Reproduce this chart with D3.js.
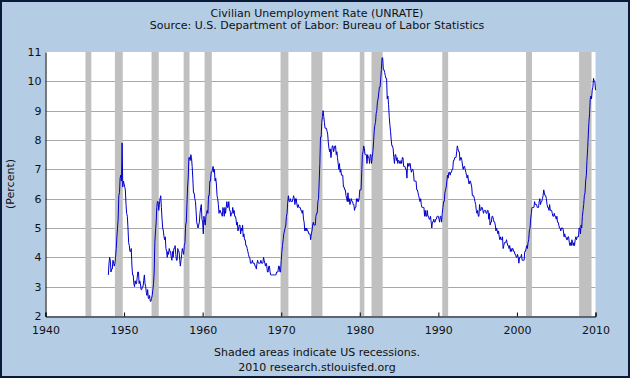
<!DOCTYPE html>
<html>
<head>
<meta charset="utf-8">
<script src="https://cdn.jsdelivr.net/npm/d3@7"></script>
<style>
  body { margin: 0; background: #fff; }
  svg { display: block; font-family: "DejaVu Sans", Verdana, sans-serif; }
</style>
</head>
<body>
<div id="chart"></div>
<script>
// monthly UNRATE, Jan 1948 .. Jan 2010
const startYear = 1948
const unrate = [
  3.4,3.8,4.0,3.9,3.5,3.6,3.6,3.9,3.8,3.7,3.8,4.0,
  4.3,4.7,5.0,5.3,6.1,6.2,6.7,6.8,6.6,7.9,6.4,6.6,
  6.5,6.4,6.3,5.8,5.5,5.4,5.0,4.5,4.4,4.2,4.2,4.3,
  3.7,3.4,3.4,3.1,3.0,3.2,3.1,3.1,3.3,3.5,3.5,3.1,
  3.2,3.1,2.9,2.9,3.0,3.0,3.2,3.4,3.1,3.0,2.8,2.7,
  2.9,2.6,2.6,2.7,2.5,2.5,2.6,2.7,2.9,3.1,3.5,4.5,
  4.9,5.2,5.7,5.9,5.9,5.6,5.8,6.0,6.1,5.7,5.3,5.0,
  4.9,4.7,4.6,4.7,4.3,4.2,4.0,4.2,4.1,4.3,4.2,4.2,
  4.0,3.9,4.2,4.0,4.3,4.3,4.4,4.1,3.9,3.9,4.3,4.2,
  4.2,3.9,3.7,3.9,4.1,4.3,4.2,4.1,4.4,4.5,5.1,5.2,
  5.8,6.4,6.7,7.4,7.4,7.3,7.5,7.4,7.1,6.7,6.2,6.2,
  6.0,5.9,5.6,5.2,5.1,5.0,5.1,5.2,5.5,5.7,5.8,5.3,
  5.2,4.8,5.4,5.2,5.1,5.4,5.5,5.6,5.5,6.1,6.1,6.6,
  6.6,6.9,6.9,7.0,7.1,6.9,7.0,6.6,6.7,6.5,6.1,6.0,
  5.8,5.5,5.6,5.6,5.5,5.5,5.4,5.7,5.6,5.4,5.7,5.5,
  5.7,5.9,5.7,5.7,5.9,5.6,5.6,5.4,5.5,5.5,5.7,5.5,
  5.6,5.4,5.4,5.3,5.1,5.2,4.9,5.0,5.1,5.1,4.8,5.0,
  4.9,5.1,4.7,4.8,4.6,4.6,4.4,4.4,4.3,4.2,4.1,4.0,
  4.0,3.8,3.8,3.8,3.9,3.8,3.8,3.8,3.7,3.7,3.6,3.8,
  3.9,3.8,3.8,3.8,3.8,3.9,3.8,3.8,3.8,4.0,3.9,3.8,
  3.7,3.8,3.7,3.5,3.5,3.7,3.7,3.5,3.4,3.4,3.4,3.4,
  3.4,3.4,3.4,3.4,3.4,3.5,3.5,3.5,3.7,3.7,3.5,3.5,
  3.9,4.2,4.4,4.6,4.8,4.9,5.0,5.1,5.4,5.5,5.9,6.1,
  5.9,5.9,6.0,5.9,5.9,5.9,6.0,6.1,6.0,5.8,6.0,6.0,
  5.8,5.7,5.8,5.7,5.7,5.7,5.6,5.6,5.5,5.6,5.3,5.2,
  4.9,5.0,4.9,5.0,4.9,4.9,4.8,4.8,4.8,4.6,4.8,4.9,
  5.1,5.2,5.1,5.1,5.1,5.4,5.5,5.5,5.9,6.0,6.6,7.2,
  8.1,8.1,8.6,8.8,9.0,8.8,8.6,8.4,8.4,8.4,8.3,8.2,
  7.9,7.7,7.6,7.7,7.4,7.6,7.8,7.8,7.6,7.7,7.8,7.8,
  7.5,7.6,7.4,7.2,7.0,7.2,6.9,7.0,6.8,6.8,6.8,6.4,
  6.4,6.3,6.3,6.1,6.0,5.9,6.2,5.9,6.0,5.8,5.9,6.0,
  5.9,5.9,5.8,5.8,5.6,5.7,5.7,6.0,5.9,6.0,5.9,6.0,
  6.3,6.3,6.3,6.9,7.5,7.6,7.8,7.7,7.5,7.5,7.5,7.2,
  7.5,7.4,7.4,7.2,7.5,7.5,7.2,7.4,7.6,7.9,8.3,8.5,
  8.6,8.9,9.0,9.3,9.4,9.6,9.8,9.8,10.1,10.4,10.8,10.8,
  10.4,10.4,10.3,10.2,10.1,10.1,9.4,9.5,9.2,8.8,8.5,8.3,
  8.0,7.8,7.8,7.7,7.4,7.2,7.5,7.5,7.3,7.4,7.2,7.3,
  7.3,7.2,7.2,7.3,7.2,7.4,7.4,7.1,7.1,7.1,7.0,7.0,
  6.7,7.2,7.2,7.1,7.2,7.2,7.0,6.9,7.0,7.0,6.9,6.6,
  6.6,6.6,6.6,6.3,6.3,6.2,6.1,6.0,5.9,6.0,5.8,5.7,
  5.7,5.7,5.7,5.4,5.6,5.4,5.4,5.6,5.4,5.4,5.3,5.3,
  5.4,5.2,5.0,5.2,5.2,5.3,5.2,5.2,5.3,5.3,5.4,5.4,
  5.4,5.3,5.2,5.4,5.4,5.2,5.5,5.7,5.9,5.9,6.2,6.3,
  6.4,6.6,6.8,6.7,6.9,6.9,6.8,6.9,6.9,7.0,7.0,7.3,
  7.3,7.4,7.4,7.4,7.6,7.8,7.7,7.6,7.6,7.3,7.4,7.4,
  7.3,7.1,7.0,7.1,7.1,7.0,6.9,6.8,6.7,6.8,6.6,6.5,
  6.6,6.6,6.5,6.4,6.1,6.1,6.1,6.0,5.9,5.8,5.6,5.5,
  5.6,5.4,5.4,5.8,5.6,5.6,5.7,5.7,5.6,5.5,5.6,5.6,
  5.6,5.5,5.5,5.6,5.6,5.3,5.5,5.1,5.2,5.2,5.4,5.4,
  5.3,5.2,5.2,5.1,4.9,5.0,4.9,4.8,4.9,4.7,4.6,4.7,
  4.6,4.6,4.7,4.3,4.4,4.5,4.5,4.5,4.6,4.5,4.4,4.4,
  4.3,4.4,4.2,4.3,4.2,4.3,4.3,4.2,4.2,4.1,4.1,4.0,
  4.0,4.1,4.0,3.8,4.0,4.0,4.0,4.1,3.9,3.9,3.9,3.9,
  4.2,4.2,4.3,4.4,4.3,4.5,4.6,4.9,5.0,5.3,5.5,5.7,
  5.7,5.7,5.7,5.9,5.8,5.8,5.8,5.7,5.7,5.7,5.9,6.0,
  5.8,5.9,5.9,6.0,6.1,6.3,6.2,6.1,6.1,6.0,5.8,5.7,
  5.7,5.6,5.8,5.6,5.6,5.6,5.5,5.4,5.4,5.5,5.4,5.4,
  5.3,5.4,5.2,5.2,5.1,5.0,5.0,4.9,5.0,5.0,5.0,4.9,
  4.7,4.8,4.7,4.7,4.6,4.6,4.7,4.7,4.5,4.4,4.5,4.4,
  4.6,4.5,4.4,4.5,4.4,4.6,4.7,4.6,4.7,4.7,4.7,5.0,
  5.0,4.8,5.1,5.0,5.4,5.6,5.8,6.1,6.2,6.6,6.8,7.3,
  7.7,8.2,8.6,8.9,9.4,9.5,9.4,9.7,9.8,10.1,10.0,10.0,
  9.7
]

// NBER recessions, peak month .. trough month
const recStart = ["1945-02","1948-11","1953-07","1957-08","1960-04","1969-12","1973-11","1980-01","1981-07","1990-07","2001-03","2007-12"]
const recEnd   = ["1945-10","1949-10","1954-05","1958-04","1961-02","1970-11","1975-03","1980-07","1982-11","1991-03","2001-11","2009-06"]

const yTicks = [2,3,4,5,6,7,8,9,10,11]
const xTickYears = [1940,1950,1960,1970,1980,1990,2000,2010]

const W = 630, H = 378
const plot = { left: 45.5, right: 595.5, top: 52, bottom: 316 }

const parseMonth = d3.timeParse("%Y-%m")
const data = unrate.map((v, i) => ({ date: new Date(startYear + Math.floor(i / 12), i % 12, 1), value: v }))

const x = d3.scaleTime()
  .domain([new Date(1940, 0, 1), new Date(2010, 0, 1)])
  .range([plot.left, plot.right])
const y = d3.scaleLinear().domain([2, 11]).range([plot.bottom, plot.top])

const svg = d3.select("#chart").append("svg")
  .attr("width", W).attr("height", H)

// background + frame
svg.append("rect").attr("x", 0).attr("y", 0).attr("width", W).attr("height", H)
  .attr("fill", "#b4cce4")
svg.append("rect").attr("x", 1).attr("y", 1).attr("width", W - 2).attr("height", H - 2)
  .attr("fill", "none").attr("stroke", "#0a1a3a").attr("stroke-width", 2)

svg.append("rect")
  .attr("x", plot.left).attr("y", plot.top)
  .attr("width", plot.right - plot.left).attr("height", plot.bottom - plot.top)
  .attr("fill", "#fff")

// gridlines
svg.append("g").selectAll("line").data(yTicks.slice(1, -1)).enter().append("line")
  .attr("x1", plot.left).attr("x2", plot.right)
  .attr("y1", d => Math.round(y(d)) + 0.5).attr("y2", d => Math.round(y(d)) + 0.5)
  .attr("stroke", "#a8a8a8").attr("stroke-width", 1)

// recession shading
svg.append("g").selectAll("rect").data(recStart).enter().append("rect")
  .attr("x", d => x(parseMonth(d)))
  .attr("y", plot.top)
  .attr("width", (d, i) => x(d3.timeMonth.offset(parseMonth(recEnd[i]), 1)) - x(parseMonth(d)))
  .attr("height", plot.bottom - plot.top)
  .attr("fill", "#c0c0c0")

// series
const line = d3.line().x(d => x(d.date)).y(d => y(d.value))
svg.append("path").datum(data)
  .attr("d", line)
  .attr("fill", "none")
  .attr("stroke", "#0000cc")
  .attr("stroke-width", 1)

// axes
const xAxis = d3.axisBottom(x)
  .tickValues(xTickYears.map(yr => new Date(yr, 0, 1)))
  .tickFormat(d3.timeFormat("%Y"))
  .tickSize(-4).tickPadding(10)
const gx = svg.append("g").attr("transform", `translate(0,${plot.bottom + 0.5})`).call(xAxis)
gx.select(".domain").attr("stroke", "#000")
gx.selectAll(".tick line").attr("stroke", "#000")
gx.selectAll("text").attr("font-size", 11).attr("fill", "#111")
  .attr("font-family", "DejaVu Sans, Verdana, sans-serif")

const yAxis = d3.axisLeft(y).tickValues(yTicks).tickSize(0).tickPadding(4).tickFormat(d3.format("d"))
const gy = svg.append("g").attr("transform", `translate(${plot.left},0)`).call(yAxis)
gy.select(".domain").attr("stroke", "#000")
gy.selectAll("text").attr("font-size", 11).attr("fill", "#111")
  .attr("font-family", "DejaVu Sans, Verdana, sans-serif")

// texts
const txt = (s, tx, ty, opts = {}) => svg.append("text")
  .attr("x", tx).attr("y", ty)
  .attr("text-anchor", "middle")
  .attr("font-size", opts.size || 11)
  .attr("fill", "#111")
  .attr("transform", opts.rotate ? `rotate(-90,${tx},${ty})` : null)
  .text(s)

txt("Civilian Unemployment Rate (UNRATE)", 317, 17)
txt("Source: U.S. Department of Labor: Bureau of Labor Statistics", 317, 29)
txt("Shaded areas indicate US recessions.", 317, 356)
txt("2010 research.stlouisfed.org", 317, 371)
txt("(Percent)", 14, 184, { rotate: true })
</script>
</body>
</html>
